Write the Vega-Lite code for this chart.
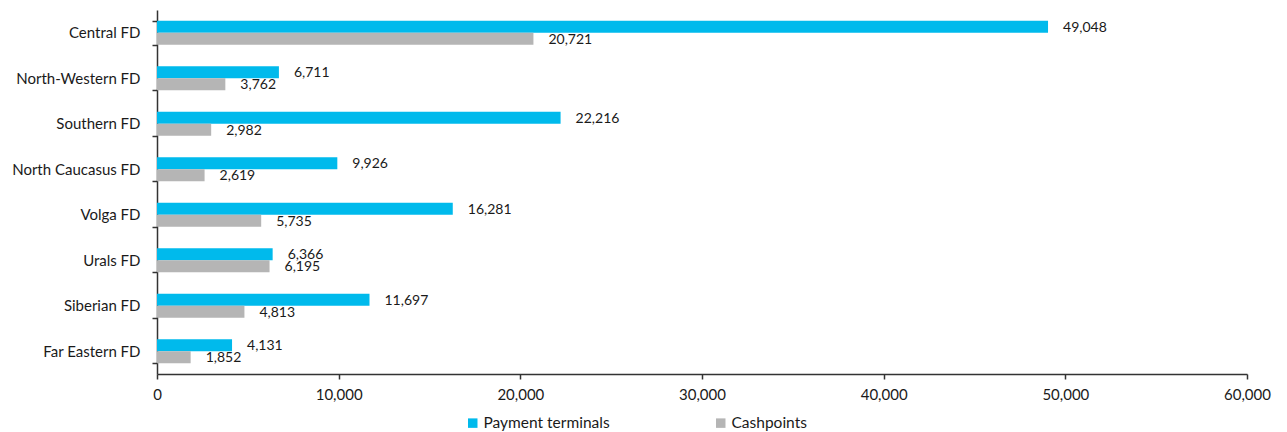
{
  "$schema": "https://vega.github.io/schema/vega-lite/v6.json",
  "autosize": {"type": "none"},
  "padding": {"left": 157, "top": 10, "right": 40, "bottom": 58},
  "width": 1090,
  "height": 364,
  "config": {
    "font": "Lato",
    "view": {"stroke": null},
    "axis": {"labelFont": "Lato", "labelFontSize": 15, "labelColor": "#1a1a1a", "domainColor": "#333333", "tickColor": "#333333", "grid": false, "title": null}
  },
  "data": {
    "values": [
      {"district": "Central FD", "series": "Payment terminals", "value": 49048},
      {"district": "Central FD", "series": "Cashpoints", "value": 20721},
      {"district": "North-Western FD", "series": "Payment terminals", "value": 6711},
      {"district": "North-Western FD", "series": "Cashpoints", "value": 3762},
      {"district": "Southern FD", "series": "Payment terminals", "value": 22216},
      {"district": "Southern FD", "series": "Cashpoints", "value": 2982},
      {"district": "North Caucasus FD", "series": "Payment terminals", "value": 9926},
      {"district": "North Caucasus FD", "series": "Cashpoints", "value": 2619},
      {"district": "Volga FD", "series": "Payment terminals", "value": 16281},
      {"district": "Volga FD", "series": "Cashpoints", "value": 5735},
      {"district": "Urals FD", "series": "Payment terminals", "value": 6366},
      {"district": "Urals FD", "series": "Cashpoints", "value": 6195},
      {"district": "Siberian FD", "series": "Payment terminals", "value": 11697},
      {"district": "Siberian FD", "series": "Cashpoints", "value": 4813},
      {"district": "Far Eastern FD", "series": "Payment terminals", "value": 4131},
      {"district": "Far Eastern FD", "series": "Cashpoints", "value": 1852}
    ]
  },
  "encoding": {
    "y": {
      "field": "district", "type": "nominal", "sort": null,
      "scale": {"paddingInner": 0.47, "paddingOuter": 0.235},
      "axis": {"tickBand": "extent", "tickSize": 5, "labelPadding": 12, "domainWidth": 1.5, "tickWidth": 1.5}
    },
    "yOffset": {"field": "series", "type": "nominal", "sort": ["Payment terminals", "Cashpoints"]},
    "x": {
      "field": "value", "type": "quantitative",
      "scale": {"domain": [0, 60000], "nice": false},
      "axis": {"values": [0, 10000, 20000, 30000, 40000, 50000, 60000], "labelExpr": "format(datum.value, ',')", "tickSize": 5, "labelPadding": 8, "domainWidth": 1.5, "tickWidth": 1.5, "labelFlush": false}
    }
  },
  "layer": [
    {
      "mark": {"type": "bar"},
      "encoding": {
        "color": {
          "field": "series", "type": "nominal",
          "scale": {"domain": ["Payment terminals", "Cashpoints"], "range": ["#00BAEC", "#B5B5B5"]},
          "legend": {
            "title": null, "orient": "none", "direction": "horizontal",
            "legendX": 308, "legendY": 405,
            "symbolType": "square", "symbolSize": 90, "symbolStrokeWidth": 0,
            "labelFont": "Lato", "labelFontSize": 15.5, "labelColor": "#1a1a1a",
            "labelOffset": 3, "columnPadding": 103
          }
        }
      }
    },
    {
      "mark": {"type": "text", "align": "left", "baseline": "middle", "dx": 15, "dy": 1, "fontSize": 14, "font": "Lato", "color": "#1a1a1a"},
      "encoding": {
        "text": {"field": "value", "type": "quantitative", "format": ","}
      }
    }
  ]
}
